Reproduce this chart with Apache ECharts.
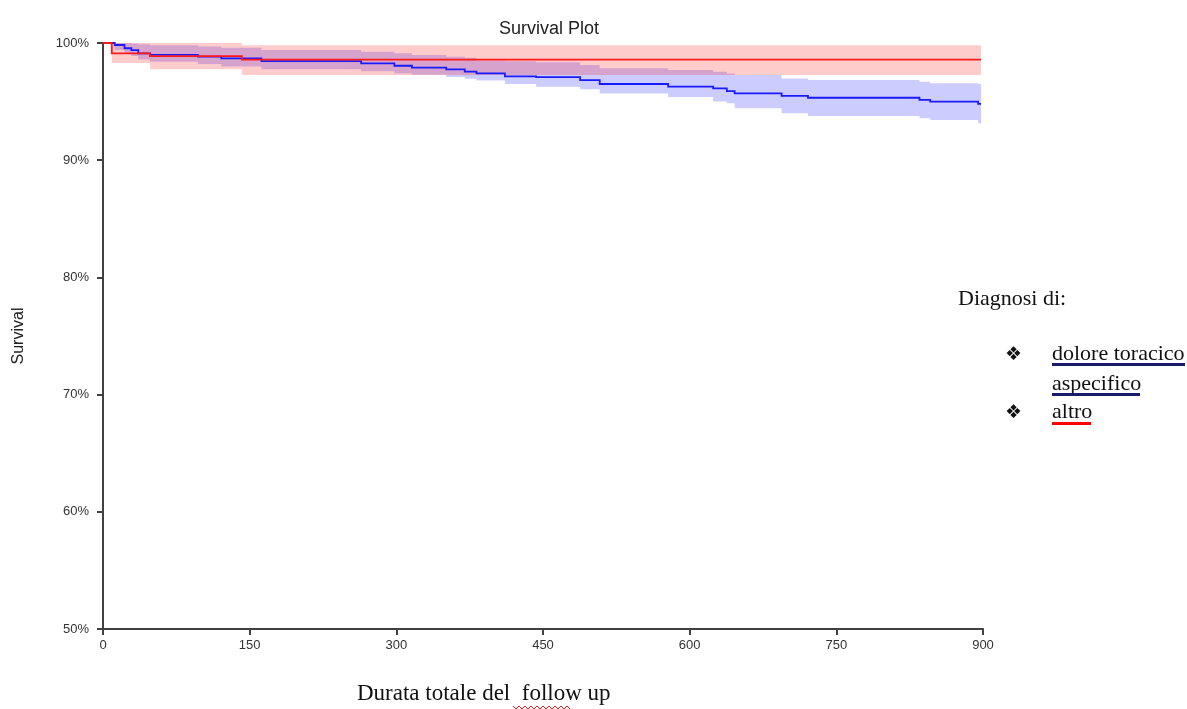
<!DOCTYPE html>
<html>
<head>
<meta charset="utf-8">
<script src="https://cdn.jsdelivr.net/npm/echarts@6/dist/echarts.min.js"></script>
<style>
html,body{margin:0;padding:0;background:#fff;}
#chart{width:1187px;height:709px;}
</style>
</head>
<body>
<div id="chart"></div>
<script>
// ---- data (days, survival %) ----
const xTicks = [0, 150, 300, 450, 600, 750, 900];
const yTicks = [50, 60, 70, 80, 90, 100];

// "altro" (red)
const redT  = [0, 9, 48, 142, 898];
const redS  = [100, 99.12, 98.88, 98.58, 98.58];
const redLo = [100, 98.3, 97.75, 97.27, 97.27];
const redHi = [100, 100, 100, 99.8, 99.8];

// "dolore toracico aspecifico" (blue)
const blueT  = [0, 12, 22, 29, 36, 48, 97, 121, 162, 264, 298, 316, 351, 370, 382, 411, 443, 488, 508, 578, 624, 638, 646, 694, 721, 835, 846, 895, 898];
const blueS  = [100, 99.83, 99.55, 99.4, 99.12, 98.98, 98.83, 98.69, 98.46, 98.26, 98.06, 97.9, 97.75, 97.55, 97.41, 97.15, 97.08, 96.84, 96.5, 96.27, 96.13, 95.9, 95.7, 95.48, 95.33, 95.15, 95.0, 94.8, 94.8];
const blueLo = [100, 99.4, 99.1, 98.9, 98.6, 98.4, 98.2, 98.0, 97.75, 97.6, 97.4, 97.3, 97.1, 96.95, 96.8, 96.5, 96.27, 96.05, 95.7, 95.4, 95.0, 94.86, 94.43, 94.0, 93.77, 93.57, 93.43, 93.15, 93.15];
const blueHi = [100, 100, 100, 99.95, 99.9, 99.8, 99.7, 99.6, 99.4, 99.26, 99.12, 98.98, 98.83, 98.75, 98.5, 98.45, 98.35, 98.12, 97.84, 97.7, 97.55, 97.4, 97.27, 96.98, 96.84, 96.7, 96.56, 96.5, 96.5];

const titleText = 'Survival Plot';
const yName = 'Survival';
const xName = 'Durata totale del  follow up';
const legendTitle = 'Diagnosi di:';
const legendItems = ['dolore toracico', 'aspecifico', 'altro'];

// ---- build ----
// expand a Kaplan-Meier step function into explicit corner points
function stepPts(t, v) {
  const out = [];
  for (let i = 0; i < t.length; i++) {
    out.push([t[i], v[i]]);
    if (i + 1 < t.length) out.push([t[i + 1], v[i]]);
  }
  return out;
}

function bandSeries(t, lo, hi, color) {
  const upper = stepPts(t, hi);
  const lower = stepPts(t, lo).reverse();
  return {
    type: 'custom', silent: true, z: 1,
    data: [[t[0], hi[0]]],
    renderItem: function (params, api) {
      const pts = upper.concat(lower).map(p => api.coord(p));
      return { type: 'polygon', shape: { points: pts }, style: { fill: color, stroke: null } };
    }
  };
}

function stepLine(t, v, color, z) {
  const pts0 = stepPts(t, v);
  return {
    type: 'custom', silent: true, z: z,
    data: [[t[0], v[0]]],
    renderItem: function (params, api) {
      const pts = pts0.map(p => api.coord(p));
      return { type: 'polyline', shape: { points: pts },
        style: { stroke: color, lineWidth: 1.8, fill: null, lineJoin: 'miter' } };
    }
  };
}

const axisCol = '#404040';
const chart = echarts.init(document.getElementById('chart'), null, { renderer: 'canvas' });
chart.setOption({
  animation: false,
  backgroundColor: '#fff',
  title: {
    text: titleText, left: 494, top: 15,
    textStyle: { fontFamily: 'Liberation Sans', fontSize: 18, fontWeight: 'normal', color: '#222' }
  },
  grid: { left: 103, right: 204, top: 43, bottom: 80 },
  xAxis: {
    type: 'value', min: 0, max: 900, interval: 150,
    axisLine: { show: true, lineStyle: { color: axisCol, width: 2 } },
    axisTick: { show: true, length: 6, lineStyle: { color: axisCol, width: 2 } },
    splitLine: { show: false },
    axisLabel: { margin: 10, fontFamily: 'Liberation Sans', fontSize: 13, color: '#333',
      formatter: v => xTicks.includes(v) ? String(v) : '' }
  },
  yAxis: {
    type: 'value', min: 50, max: 100, interval: 10,
    name: yName, nameLocation: 'middle', nameGap: 76, nameRotate: 90,
    nameTextStyle: { fontFamily: 'Liberation Sans', fontSize: 16, color: '#222' },
    axisLine: { show: true, lineStyle: { color: axisCol, width: 2 } },
    axisTick: { show: true, length: 6, lineStyle: { color: axisCol, width: 2 } },
    splitLine: { show: false },
    axisLabel: { margin: 14, fontFamily: 'Liberation Sans', fontSize: 13, color: '#333',
      formatter: v => yTicks.includes(v) ? v + '%' : '' }
  },
  series: [
    bandSeries(blueT, blueLo, blueHi, 'rgba(0,0,255,0.2)'),
    bandSeries(redT, redLo, redHi, 'rgba(255,0,0,0.2)'),
    stepLine(blueT, blueS, '#1a1aff', 3),
    stepLine(redT, redS, '#ff1a1a', 4)
  ],
  graphic: [
    { type: 'text', left: 357, top: 682, style: { text: xName, font: '23px "Liberation Serif"', fill: '#111' } },
    { type: 'polyline', shape: { points: (function(){ const p=[]; for (let x=513; x<=570; x+=3) p.push([x, (x-513)%6===0 ? 706 : 709]); return p; })() },
      style: { stroke: '#e02020', lineWidth: 1, fill: null } },
    { type: 'text', left: 958, top: 288, style: { text: legendTitle, font: '22px "Liberation Serif"', fill: '#111' } },
    { type: 'text', left: 1005, top: 346, style: { text: '\u2756', font: '19px "DejaVu Sans"', fill: '#111' } },
    { type: 'text', left: 1005, top: 404, style: { text: '\u2756', font: '19px "DejaVu Sans"', fill: '#111' } },
    { type: 'text', left: 1052, top: 343, style: { text: legendItems[0], font: '22px "Liberation Serif"', fill: '#111' } },
    { type: 'rect', shape: { x: 1052, y: 363, width: 133, height: 3 }, style: { fill: '#1c1a6a' } },
    { type: 'text', left: 1052, top: 373, style: { text: legendItems[1], font: '22px "Liberation Serif"', fill: '#111' } },
    { type: 'rect', shape: { x: 1052, y: 393, width: 88, height: 3 }, style: { fill: '#1c1a6a' } },
    { type: 'text', left: 1052, top: 401, style: { text: legendItems[2], font: '22px "Liberation Serif"', fill: '#111' } },
    { type: 'rect', shape: { x: 1052, y: 422, width: 39, height: 3 }, style: { fill: '#ff0000' } }
  ]
});
</script>
</body>
</html>
